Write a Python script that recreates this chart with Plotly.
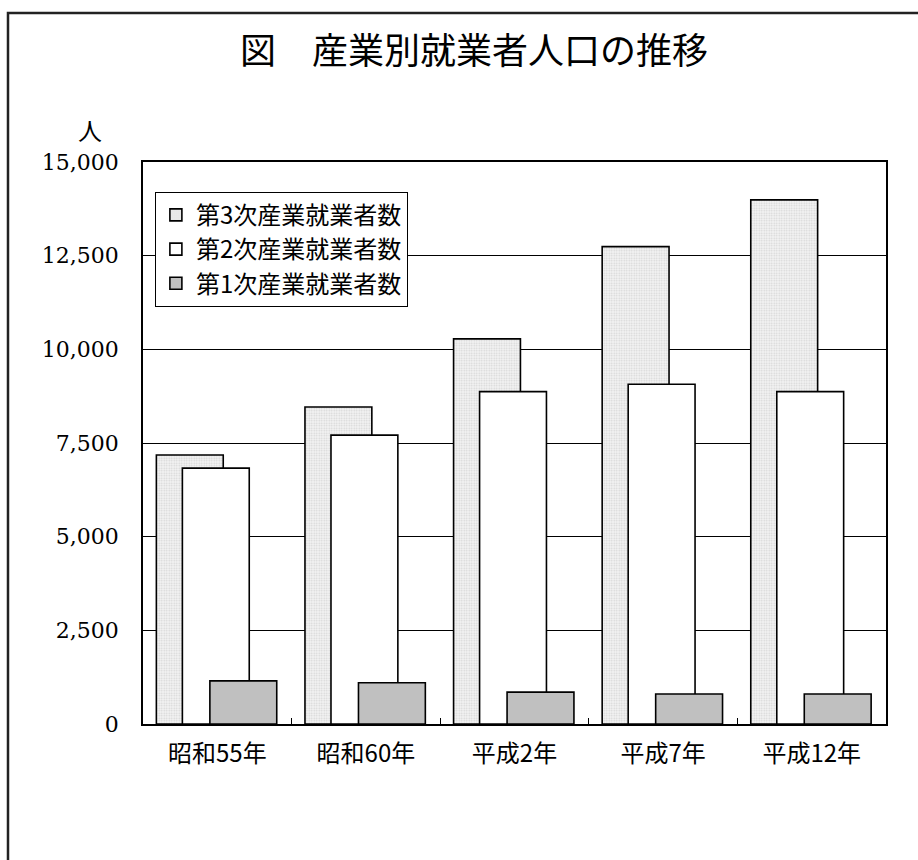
import plotly.graph_objects as go

# 産業別就業者人口（人）
years = ["昭和55年", "昭和60年", "平成2年", "平成7年", "平成12年"]
tertiary = [7180, 8460, 10280, 12740, 13990]
secondary = [6830, 7710, 8870, 9070, 8870]
primary = [1150, 1100, 850, 800, 800]

y_ticks = [0, 2500, 5000, 7500, 10000, 12500, 15000]
y_tick_text = ["0", "2,500", "5,000", "7,500", "10,000", "12,500", "15,000"]

BAR_W = 0.45
outline = dict(color="black", width=1.6)

fig = go.Figure()
fig.add_trace(go.Bar(
    name="第3次産業就業者数", x=years, y=tertiary,
    width=BAR_W, offset=-0.41,
    marker=dict(color="#ffffff", line=outline,
                pattern=dict(shape=".", fgcolor="#b4b4b4", bgcolor="#f4f4f4",
                             size=2.5, solidity=0.4)),
))
fig.add_trace(go.Bar(
    name="第2次産業就業者数", x=years, y=secondary,
    width=BAR_W, offset=-0.235,
    marker=dict(color="#ffffff", line=outline),
))
fig.add_trace(go.Bar(
    name="第1次産業就業者数", x=years, y=primary,
    width=BAR_W, offset=-0.05,
    marker=dict(color="#c0c0c0", line=outline),
))

fig.update_layout(
    width=918, height=860,
    margin=dict(l=143, r=32, t=162, b=136),
    paper_bgcolor="white", plot_bgcolor="white",
    barmode="overlay",
    showlegend=True,
    legend=dict(
        x=0.016, y=0.947, xanchor="left", yanchor="top",
        bgcolor="white", bordercolor="black", borderwidth=1,
        font=dict(family="Noto Sans CJK JP", size=24, color="black"),
        itemwidth=30, tracegroupgap=0,
    ),
    xaxis=dict(
        type="category",
        showline=True, linecolor="black", linewidth=1.5, mirror=True,
        ticks="inside", ticklen=6, tickcolor="black", tickson="boundaries",
        ticklabelstandoff=7,
        tickfont=dict(family="Noto Sans CJK JP", size=24, color="black"),
        showgrid=False,
    ),
    yaxis=dict(
        range=[0, 15000],
        tickvals=y_ticks, ticktext=y_tick_text,
        showline=True, linecolor="black", linewidth=1.5, mirror=True,
        showgrid=True, gridcolor="black", gridwidth=1,
        ticks="", ticklabelstandoff=18,
        tickfont=dict(family="DejaVu Serif", size=22, color="black"),
        zeroline=False,
    ),
    annotations=[
        dict(text="図　産業別就業者人口の推移", xref="paper", yref="paper",
             x=0.4455, y=1.202, xanchor="center", yanchor="middle",
             showarrow=False,
             font=dict(family="Noto Sans CJK JP", size=36, color="black")),
        dict(text="人", xref="paper", yref="paper",
             x=-0.0713, y=1.057, xanchor="center", yanchor="middle",
             showarrow=False,
             font=dict(family="Noto Sans CJK JP", size=24, color="black")),
    ],
    shapes=[
        dict(type="rect", xref="paper", yref="paper",
             x0=-0.1817, x1=1.2, y0=-0.4, y1=1.265,
             line=dict(color="#222222", width=2.5), layer="below"),
    ],
)

fig.write_html("out.html")
